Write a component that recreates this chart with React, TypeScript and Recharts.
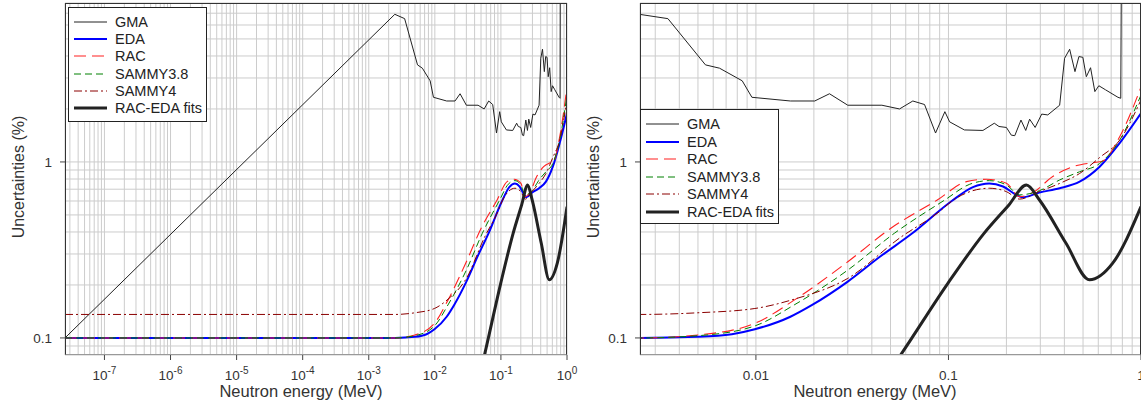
import React from "react";
import { LineChart, Line, XAxis, YAxis, CartesianGrid } from "recharts";

// energies in MeV, uncertainties in %
const gmaE = [
  2.53e-8, 0.00248, 0.00349, 0.00547, 0.00647, 0.00849, 0.00953, 0.0151, 0.0202,
  0.0241, 0.03, 0.0451, 0.0557, 0.0653, 0.0751, 0.0857, 0.0958, 0.1014, 0.121,
  0.151, 0.173, 0.183, 0.2, 0.212, 0.221, 0.238, 0.252, 0.264, 0.282, 0.305,
  0.328, 0.378, 0.401, 0.426, 0.454, 0.476, 0.499, 0.52, 0.547, 0.576, 0.604,
  0.654, 0.759, 0.785, 0.795,
];
const gmaU = [
  0.1, 6.9, 6.52, 3.56, 3.41, 2.89, 2.33, 2.22, 2.22, 2.44, 2.1, 2.1, 2.0, 2.22,
  2.12, 1.46, 1.93, 1.69, 1.52, 1.51, 1.66, 1.59, 1.57, 1.42, 1.41, 1.73, 1.51,
  1.75, 1.57, 1.87, 1.85, 2.1, 3.88, 4.37, 3.26, 3.97, 3.93, 3.05, 3.43, 2.51,
  2.71, 2.57, 2.33, 2.3, 40,
];

const edaE = [
  2.53e-8, 1e-3, 0.0025, 0.005, 0.0075, 0.00987, 0.0151, 0.0196, 0.03, 0.0442,
  0.0649, 0.104, 0.134, 0.163, 0.192, 0.225, 0.242, 0.297, 0.378, 0.48, 0.61,
  0.775, 1.0,
];
const edaU = [
  0.1, 0.1, 0.1, 0.1015, 0.105, 0.112, 0.132, 0.154, 0.209, 0.29, 0.393, 0.6,
  0.72, 0.755, 0.725, 0.65, 0.63, 0.67, 0.709, 0.773, 0.94, 1.28, 1.89,
];

const racE = [
  2.53e-8, 1e-3, 0.0025, 0.005, 0.00987, 0.0158, 0.03, 0.0502, 0.0875, 0.124,
  0.158, 0.2, 0.234, 0.274, 0.348, 0.443, 0.563, 0.63, 0.775, 1.0,
];
const racU = [
  0.1, 0.1, 0.1, 0.104, 0.121, 0.164, 0.271, 0.42, 0.608, 0.773, 0.797, 0.757,
  0.635, 0.67, 0.826, 0.94, 0.99, 1.01, 1.39, 2.66,
];

const s38E = [
  2.53e-8, 1e-3, 0.0025, 0.005, 0.00987, 0.0158, 0.03, 0.0523, 0.0957, 0.129,
  0.163, 0.2, 0.234, 0.297, 0.378, 0.48, 0.61, 0.775, 1.0,
];
const s38U = [
  0.1, 0.1, 0.1, 0.103, 0.117, 0.154, 0.243, 0.393, 0.608, 0.747, 0.783, 0.74,
  0.65, 0.687, 0.79, 0.88, 0.98, 1.33, 2.4,
];

const s4E = [
  2.53e-8, 1e-3, 0.0025, 0.005, 0.00987, 0.0158, 0.03, 0.057, 0.0875, 0.109,
  0.163, 0.2, 0.234, 0.297, 0.378, 0.48, 0.61, 0.775, 1.0,
];
const s4U = [
  0.136, 0.136, 0.136, 0.139, 0.147, 0.166, 0.218, 0.376, 0.511, 0.62, 0.709,
  0.678, 0.615, 0.68, 0.755, 0.86, 1.06, 1.33, 2.25,
];

const fitE = [0.05, 0.0564, 0.0995, 0.153, 0.206, 0.254, 0.297, 0.408, 0.54, 0.713, 1.0];
const fitU = [0.066, 0.08, 0.205, 0.393, 0.57, 0.74, 0.608, 0.345, 0.214, 0.266, 0.557];

const leftXDomain = [2.53e-8, 1];
const rightXDomain = [0.0025, 1];
const yDomain = [0.08, 8];

const leftXMajor = [1e-7, 1e-6, 1e-5, 1e-4, 1e-3, 1e-2, 1e-1, 1];
const rightXMajor = [0.01, 0.1, 1];
const yMajor = [0.1, 1];

const pts = (e: number[], u: number[]) => e.map((x, i) => ({ x, y: u[i] }));

const logGrid = (lo: number, hi: number) => {
  const out: number[] = [];
  for (let d = Math.floor(Math.log10(lo)); d <= Math.ceil(Math.log10(hi)); d++) {
    for (let k = 1; k <= 9; k++) {
      const v = parseFloat((k * Math.pow(10, d)).toPrecision(6));
      if (v >= lo * 0.9999 && v <= hi * 1.0001) out.push(v);
    }
  }
  return out;
};

const FONT = '"Liberation Sans", Arial, Helvetica, sans-serif';
const TICK_COLOR = "#333";

const series = [
  { name: "GMA", data: pts(gmaE, gmaU), color: "#222", width: 1, dash: undefined, type: "linear" },
  { name: "EDA", data: pts(edaE, edaU), color: "#0000ff", width: 2, dash: undefined, type: "monotone" },
  { name: "RAC", data: pts(racE, racU), color: "#ff2020", width: 1.1, dash: "12 6", type: "monotone" },
  { name: "SAMMY3.8", data: pts(s38E, s38U), color: "#008000", width: 1, dash: "7 4", type: "monotone" },
  { name: "SAMMY4", data: pts(s4E, s4U), color: "#8b0000", width: 1, dash: "8 3 2 3", type: "monotone" },
  { name: "RAC-EDA fits", data: pts(fitE, fitU), color: "#222", width: 3, dash: undefined, type: "monotone" },
];

const isMajor = (v: number, majors: number[]) =>
  majors.some((m) => Math.abs(m - v) / m < 1e-6);

const PowTick = (props: any) => {
  const { x, y, payload } = props;
  if (!isMajor(payload.value, leftXMajor)) return null;
  const e = Math.round(Math.log10(payload.value));
  return (
    <g>
      <line x1={x} x2={x} y1={y} y2={y + 5} stroke="#444" />
      <text x={x} y={y + 25} textAnchor="middle" fill={TICK_COLOR} fontSize={13.5} fontFamily={FONT}>
        10
        <tspan dy={-6} fontSize={10}>{e}</tspan>
      </text>
    </g>
  );
};

const DecTick = (props: any) => {
  const { x, y, payload } = props;
  if (!isMajor(payload.value, rightXMajor)) return null;
  return (
    <g>
      <line x1={x} x2={x} y1={y} y2={y + 5} stroke="#444" />
      <text x={x} y={y + 25} textAnchor="middle" fill={TICK_COLOR} fontSize={13.5} fontFamily={FONT}>
        {String(payload.value)}
      </text>
    </g>
  );
};

const YTick = (props: any) => {
  const { x, y, payload } = props;
  if (!isMajor(payload.value, yMajor)) return null;
  return (
    <g>
      <line x1={x - 5} x2={x} y1={y} y2={y} stroke="#444" />
      <text x={x - 13} y={y + 5} textAnchor="end" fill={TICK_COLOR} fontSize={13.5} fontFamily={FONT}>
        {String(payload.value)}
      </text>
    </g>
  );
};

function LegendBox({ left, top, step }: { left: number; top: number; step: number }) {
  return (
    <div
      style={{
        position: "absolute",
        left,
        top,
        width: 139,
        height: 115,
        boxSizing: "border-box",
        border: "1px solid #222",
        background: "#fff",
        fontFamily: FONT,
        fontSize: 14.5,
        color: "#222",
      }}
    >
      {series.map((s, i) => (
        <div key={s.name} style={{ position: "absolute", left: 0, top: 14 + i * step - 9, height: 18, width: 137 }}>
          <svg width={40} height={18} style={{ position: "absolute", left: 5, top: 0 }}>
            <line x1={0} x2={33} y1={9} y2={9} stroke={s.color} strokeWidth={s.width} strokeDasharray={s.dash} />
          </svg>
          <span style={{ position: "absolute", left: 46, top: 0, lineHeight: "18px", whiteSpace: "nowrap" }}>{s.name}</span>
        </div>
      ))}
    </div>
  );
}

function Frame({ left, top, width, height }: { left: number; top: number; width: number; height: number }) {
  return (
    <div
      style={{
        position: "absolute",
        left,
        top,
        width,
        height,
        boxSizing: "border-box",
        borderLeft: "1px solid #333",
        borderTop: "1px solid #333",
        borderRight: "1px solid #333",
        borderBottom: "1px solid #999",
        pointerEvents: "none",
      }}
    />
  );
}

function Panel({
  xDomain,
  xTicks,
  tick,
  width,
  marginRight,
  yAxisWidth,
}: {
  xDomain: number[];
  xTicks: number[];
  tick: any;
  width: number;
  marginRight: number;
  yAxisWidth: number;
}) {
  return (
    <LineChart width={width} height={407} margin={{ top: 3, right: marginRight, bottom: 0, left: 0 }}>
      <CartesianGrid stroke="#cccccc" strokeWidth={1} />
      <XAxis
        dataKey="x"
        type="number"
        scale="log"
        domain={xDomain}
        allowDataOverflow
        ticks={xTicks}
        interval={0}
        tick={tick}
        tickLine={false}
        axisLine={false}
        tickSize={0}
        tickMargin={0}
        height={52}
      />
      <YAxis
        dataKey="y"
        type="number"
        scale="log"
        domain={yDomain}
        allowDataOverflow
        ticks={logGrid(yDomain[0], yDomain[1])}
        interval={0}
        tick={YTick}
        tickLine={false}
        axisLine={false}
        tickSize={0}
        tickMargin={0}
        width={yAxisWidth}
      />
      {series.map((s) => (
        <Line
          key={s.name}
          data={s.data}
          dataKey="y"
          type={s.type as any}
          stroke={s.color}
          strokeWidth={s.width}
          strokeDasharray={s.dash}
          dot={false}
          activeDot={false}
          isAnimationActive={false}
        />
      ))}
    </LineChart>
  );
}

const axisTitle: React.CSSProperties = {
  position: "absolute",
  fontFamily: FONT,
  fontSize: 16.5,
  color: "#333",
  whiteSpace: "nowrap",
};

export default function App() {
  return (
    <div style={{ position: "absolute", left: 0, top: 0, width: 1141, height: 407, overflow: "hidden", background: "#fff" }}>
      <div style={{ position: "absolute", left: 0, top: 0 }}>
        <Panel xDomain={leftXDomain} xTicks={logGrid(leftXDomain[0], leftXDomain[1])} tick={PowTick} width={580} marginRight={13} yAxisWidth={65} />
      </div>
      <div style={{ position: "absolute", left: 580, top: 0 }}>
        <Panel xDomain={rightXDomain} xTicks={logGrid(rightXDomain[0], rightXDomain[1])} tick={DecTick} width={581} marginRight={20} yAxisWidth={60} />
      </div>
      <Frame left={65} top={3} width={502} height={352} />
      <Frame left={640} top={3} width={501} height={352} />
      <LegendBox left={68} top={7} step={17.2} />
      <LegendBox left={640} top={109} step={17.5} />

      <div style={{ ...axisTitle, left: 301, top: 382, transform: "translateX(-50%)" }}>Neutron energy (MeV)</div>
      <div style={{ ...axisTitle, left: 875, top: 382, transform: "translateX(-50%)" }}>Neutron energy (MeV)</div>
      <div style={{ ...axisTitle, fontSize: 16, left: 19, top: 177, transform: "translate(-50%, -50%) rotate(-90deg)" }}>Uncertainties (%)</div>
      <div style={{ ...axisTitle, fontSize: 16, left: 594, top: 177, transform: "translate(-50%, -50%) rotate(-90deg)" }}>Uncertainties (%)</div>
    </div>
  );
}
